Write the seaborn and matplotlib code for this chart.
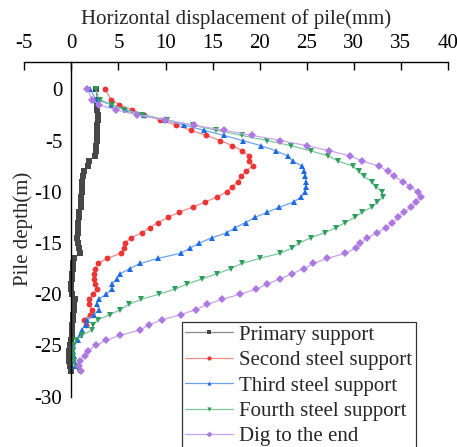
import numpy as np
import pandas as pd
import matplotlib
matplotlib.use("Agg")
import matplotlib.pyplot as plt
import seaborn as sns

# Inclinometer depths (m): surface reading, then every 0.5 m from -1.0 down to -27.5
depth = [0.0] + [-1.0 - 0.5 * k for k in range(54)]

primary_support = [
    2.65, 2.7, 2.75, 2.75, 2.8, 2.8, 2.75, 2.75, 2.7, 2.7, 2.65, 2.6, 2.55,
    1.85, 1.75, 1.35, 1.2, 1.15, 1.1, 1.1, 1.05, 1.0, 1.0, 0.8, 0.8, 0.75,
    0.75, 0.7, 0.65, 0.7, 0.8, 0.9, 0.3, 0.2, 0.15, 0.1, 0.05, 0.0, 0.0,
    0.05, 0.35, 0.3, 0.25, 0.2, 0.15, 0.1, 0.1, 0.05, -0.05, -0.15, -0.25,
    -0.3, -0.25, -0.1, 0.0,
]
second_steel = [
    3.6, 4.2, 5.1, 6.4, 7.7, 9.45, 11.1, 12.7, 14.3, 15.8, 17.1, 18.1, 18.9,
    18.9, 19.25, 18.5, 18.06, 17.7, 17.07, 16.5, 15.5, 14.2, 12.9, 11.4, 10.3,
    9.2, 8.3, 7.5, 6.3, 5.7, 5.55, 5.3, 3.8, 2.8, 2.55, 2.4, 2.45, 2.55, 2.75,
    2.3, 1.9, 1.85, 2.2, 1.95, 1.3, 1.6, np.nan, np.nan, np.nan, np.nan,
    np.nan, np.nan, np.nan, np.nan, np.nan,
]
third_steel = [
    2.0, 2.6, 4.2, 5.8, 7.7, 9.9, 12.0, 14.1, 16.2, 18.2, 20.1, 21.7, 23.0,
    23.5, 24.5, 24.75, 24.85, 24.9, 24.9, 24.85, 24.4, 23.6, 22.1, 20.8, 19.5,
    18.5, 17.4, 16.5, 14.9, 13.6, 12.6, 11.6, 9.2, 7.3, 6.2, 5.2, 4.8, 4.3,
    4.3, 3.7, 2.9, 2.7, 2.9, 2.4, 1.7, 1.5, 1.1, 0.9, 0.67, 0.2, 0.2, 0.25,
    0.3, 0.4, np.nan,
]
fourth_steel = [
    2.6, 3.0, 4.3, 5.6, 7.5, 10.2, 12.9, 15.4, 18.1, 20.8, 23.3, 25.4, 27.3,
    28.3, 29.9, 30.5, 31.05, 31.9, 32.4, 33.0, 33.1, 32.5, 31.9, 30.9, 30.1,
    29.1, 28.1, 26.9, 25.4, 24.2, 23.4, 22.2, 20.0, 18.1, 16.9, 15.5, 13.9,
    12.3, 11.0, 9.3, 7.4, 6.1, 5.2, 4.1, 2.8, 2.3, 2.2, 1.1, 0.5, 0.25, 0.2,
    0.2, 0.25, 0.5, 0.8,
]
dig_to_end = [
    1.7, 2.2, 2.9, 4.7, 7.0, 9.9, 13.0, 16.2, 19.2, 22.2, 25.0, 27.4, 29.6,
    30.9, 32.7, 33.6, 34.3, 35.2, 36.0, 36.8, 37.1, 36.6, 36.1, 35.3, 34.7,
    34.1, 33.4, 32.5, 31.4, 30.7, 30.2, 29.1, 27.2, 25.7, 24.7, 23.4, 22.2,
    20.8, 19.65, 17.9, 16.0, 14.4, 13.2, 11.6, 9.6, 8.2, 7.3, 5.2, 3.7, 2.6,
    1.8, 1.45, 0.95, 0.8, 1.05,
]

stages = ["Primary support", "Second steel support", "Third steel support",
          "Fourth steel support", "Dig to the end"]
series = [primary_support, second_steel, third_steel, fourth_steel, dig_to_end]

x_ticks = [-5, 0, 5, 10, 15, 20, 25, 30, 35, 40]
y_ticks = [0, -5, -10, -15, -20, -25, -30]

marker_colors = ["#474747", "#ee3535", "#1c6be0", "#2f9e5c", "#ad78e0"]
line_colors = ["#8a8a8a", "#f28a8a", "#6fa2ee", "#7fc79b", "#c7a4ee"]
marker_shapes = ["s", "o", "^", "v", "D"]

df = pd.concat(
    [pd.DataFrame({"depth": depth, "disp": vals, "stage": name})
     for name, vals in zip(stages, series)],
    ignore_index=True,
).dropna()

sns.set_style("white")
plt.rcParams["font.family"] = ["Liberation Serif", "DejaVu Serif"]
plt.rcParams["axes.unicode_minus"] = False

FS = 15

fig = plt.figure(figsize=(4.57, 4.47), dpi=100)
top_px, bottom_px = 62.0, 396.7
ax = fig.add_axes([24.3 / 457, 1 - bottom_px / 447,
                   (448 - 24.3) / 457, (bottom_px - top_px) / 447])

sns.lineplot(
    data=df, x="disp", y="depth", hue="stage", style="stage",
    hue_order=stages, style_order=stages,
    palette=dict(zip(stages, marker_colors)),
    markers=dict(zip(stages, marker_shapes)), dashes=False,
    orient="y", sort=False, estimator=None, legend=False,
    linewidth=0.9, markersize=4.2, markeredgewidth=0, ax=ax,
)

for line, lc, mc, mk in zip(ax.lines, line_colors, marker_colors, marker_shapes):
    line.set_color(lc)
    line.set_markerfacecolor(mc)
    line.set_markeredgecolor(mc)
    if mk == "D":
        line.set_markersize(3.6)
    if mk == "s":
        line.set_markersize(3.8)

ax.set_xlim(-5, 40)
ax.set_ylim(-30, (89.3 - top_px) / 10.25)
ax.set_xticks(x_ticks)
ax.set_xticklabels([str(t) for t in x_ticks])
ax.set_yticks(y_ticks)
ax.set_yticklabels([str(t) for t in y_ticks])

ax.xaxis.tick_top()
ax.xaxis.set_label_position("top")
ax.spines["right"].set_visible(False)
ax.spines["bottom"].set_visible(False)
ax.spines["left"].set_position(("data", 0))
for sp in ("top", "left"):
    ax.spines[sp].set_color("black")
    ax.spines[sp].set_linewidth(1.0)

ax.tick_params(axis="x", direction="in", length=6, width=1.0, pad=6.5,
               labelsize=FS, colors="black")
ax.tick_params(axis="y", direction="in", length=6, width=1.0, pad=6.5,
               labelsize=FS, colors="black")

ax.set_xlabel("Horizontal displacement of pile(mm)", fontsize=FS, labelpad=7)
ax.set_ylabel("Pile depth(m)", fontsize=FS)
ax.yaxis.set_label_coords(0.021, 0.5)

leg = ax.legend(
    ax.lines[:5], stages,
    loc="upper left", bbox_to_anchor=(182 / 457, 1 - 322 / 447),
    bbox_transform=fig.transFigure, fontsize=FS, frameon=True,
    fancybox=False, edgecolor="#333333", framealpha=1,
    labelspacing=0.28, borderpad=0.15, handlelength=2.3,
    handletextpad=0.3, borderaxespad=0,
)
leg.get_frame().set_linewidth(0.9)
for h in leg.legend_handles:
    h.set_markersize(3)

fig.savefig("out.png", dpi=100)
